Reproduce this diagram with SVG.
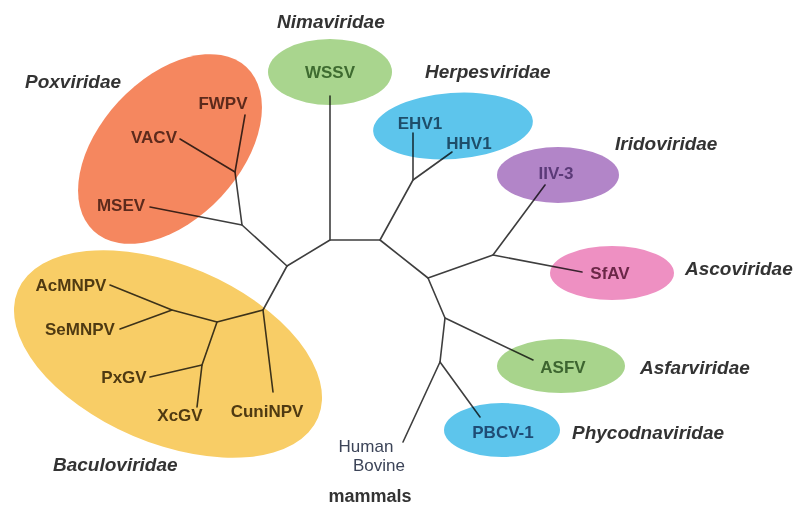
<svg xmlns="http://www.w3.org/2000/svg" width="798" height="506" viewBox="0 0 798 506">
<style>
  .bg { fill: #ffffff; }
  .edge { stroke: #3e3e3e; stroke-width: 1.6; fill: none; stroke-linecap: round; stroke-linejoin: round; }
  .blob { mix-blend-mode: multiply; }
  .lbl { font-family: "Liberation Sans", Arial, sans-serif; font-size: 17px; font-weight: bold; text-anchor: middle; }
  .fam { font-family: "Liberation Sans", Arial, sans-serif; font-size: 19px; font-weight: bold; font-style: italic; fill: #333333; }
  .host { font-family: "Liberation Sans", Arial, sans-serif; font-size: 17px; fill: #3c4458; text-anchor: middle; }
</style>
<rect class="bg" x="0" y="0" width="798" height="506"/>

<g id="connectors">
  <!-- backbone -->
  <polyline class="edge" points="287,266 330,240 380,240 428,278 445,318 440,362"/>
  <!-- Nimaviridae -->
  <line class="edge" x1="330" y1="240" x2="330" y2="96"/>
  <!-- Herpesviridae -->
  <polyline class="edge" points="380,240 413,180 413,133"/>
  <line class="edge" x1="413" y1="180" x2="452" y2="152"/>
  <!-- Iridoviridae / Ascoviridae -->
  <polyline class="edge" points="428,278 493,255 545,185"/>
  <line class="edge" x1="493" y1="255" x2="582" y2="272"/>
  <!-- Asfarviridae -->
  <line class="edge" x1="445" y1="318" x2="533" y2="360"/>
  <!-- Phycodnaviridae / mammals -->
  <line class="edge" x1="440" y1="362" x2="480" y2="417"/>
  <line class="edge" x1="440" y1="362" x2="403" y2="442"/>
  <!-- Poxviridae -->
  <polyline class="edge" points="287,266 242,225 235,172 245,115"/>
  <line class="edge" x1="242" y1="225" x2="150" y2="207"/>
  <line class="edge" x1="235" y1="172" x2="180" y2="139"/>
  <!-- Baculoviridae -->
  <polyline class="edge" points="287,266 263,310 273,392"/>
  <polyline class="edge" points="263,310 217,322 172,310 110,285"/>
  <line class="edge" x1="172" y1="310" x2="120" y2="329"/>
  <polyline class="edge" points="217,322 202,365 197,407"/>
  <line class="edge" x1="202" y1="365" x2="150" y2="377"/>
</g>

<g id="poxviridae">
  <ellipse class="blob" cx="170" cy="149" rx="112" ry="70" transform="rotate(-47 170 149)" fill="#F5875F"/>
  <text class="fam" x="25" y="88">Poxviridae</text>
  <text class="lbl" x="223" y="109" fill="#5C2A1C">FWPV</text>
  <text class="lbl" x="154" y="143" fill="#5C2A1C">VACV</text>
  <text class="lbl" x="121" y="211" fill="#5C2A1C">MSEV</text>
</g>

<g id="nimaviridae">
  <ellipse class="blob" cx="330" cy="72" rx="62" ry="33" fill="#A9D58E"/>
  <text class="fam" x="277" y="28">Nimaviridae</text>
  <text class="lbl" x="330" y="78" fill="#3E6B30">WSSV</text>
</g>

<g id="herpesviridae">
  <ellipse class="blob" cx="453" cy="126" rx="80" ry="33" transform="rotate(-4 453 126)" fill="#5DC5EC"/>
  <text class="fam" x="425" y="78">Herpesviridae</text>
  <text class="lbl" x="420" y="129" fill="#1E4E6A">EHV1</text>
  <text class="lbl" x="469" y="149" fill="#1E4E6A">HHV1</text>
</g>

<g id="iridoviridae">
  <ellipse class="blob" cx="558" cy="175" rx="61" ry="28" fill="#B285C8"/>
  <text class="fam" x="615" y="150">Iridoviridae</text>
  <text class="lbl" x="556" y="179" fill="#5B3A78">IIV-3</text>
</g>

<g id="ascoviridae">
  <ellipse class="blob" cx="612" cy="273" rx="62" ry="27" fill="#EE90C2"/>
  <text class="fam" x="685" y="275">Ascoviridae</text>
  <text class="lbl" x="610" y="279" fill="#6B2747">SfAV</text>
</g>

<g id="asfarviridae">
  <ellipse class="blob" cx="561" cy="366" rx="64" ry="27" fill="#A8D48C"/>
  <text class="fam" x="640" y="374">Asfarviridae</text>
  <text class="lbl" x="563" y="373" fill="#3D6530">ASFV</text>
</g>

<g id="phycodnaviridae">
  <ellipse class="blob" cx="502" cy="430" rx="58" ry="27" fill="#5DC5EC"/>
  <text class="fam" x="572" y="439">Phycodnaviridae</text>
  <text class="lbl" x="503" y="438" fill="#1F4C75">PBCV-1</text>
</g>

<g id="baculoviridae">
  <ellipse class="blob" cx="168" cy="354" rx="163" ry="89" transform="rotate(23 168 354)" fill="#F8CD66"/>
  <text class="fam" x="53" y="471">Baculoviridae</text>
  <text class="lbl" x="71" y="291" fill="#4F3A12">AcMNPV</text>
  <text class="lbl" x="80" y="335" fill="#4F3A12">SeMNPV</text>
  <text class="lbl" x="124" y="383" fill="#4F3A12">PxGV</text>
  <text class="lbl" x="180" y="421" fill="#4F3A12">XcGV</text>
  <text class="lbl" x="267" y="417" fill="#4F3A12">CuniNPV</text>
</g>

<g id="mammals">
  <text class="host" x="366" y="452">Human</text>
  <text class="host" x="379" y="471">Bovine</text>
  <text x="370" y="502" font-family="Liberation Sans, Arial, sans-serif" font-size="18" font-weight="bold" fill="#333333" text-anchor="middle">mammals</text>
</g>
</svg>
